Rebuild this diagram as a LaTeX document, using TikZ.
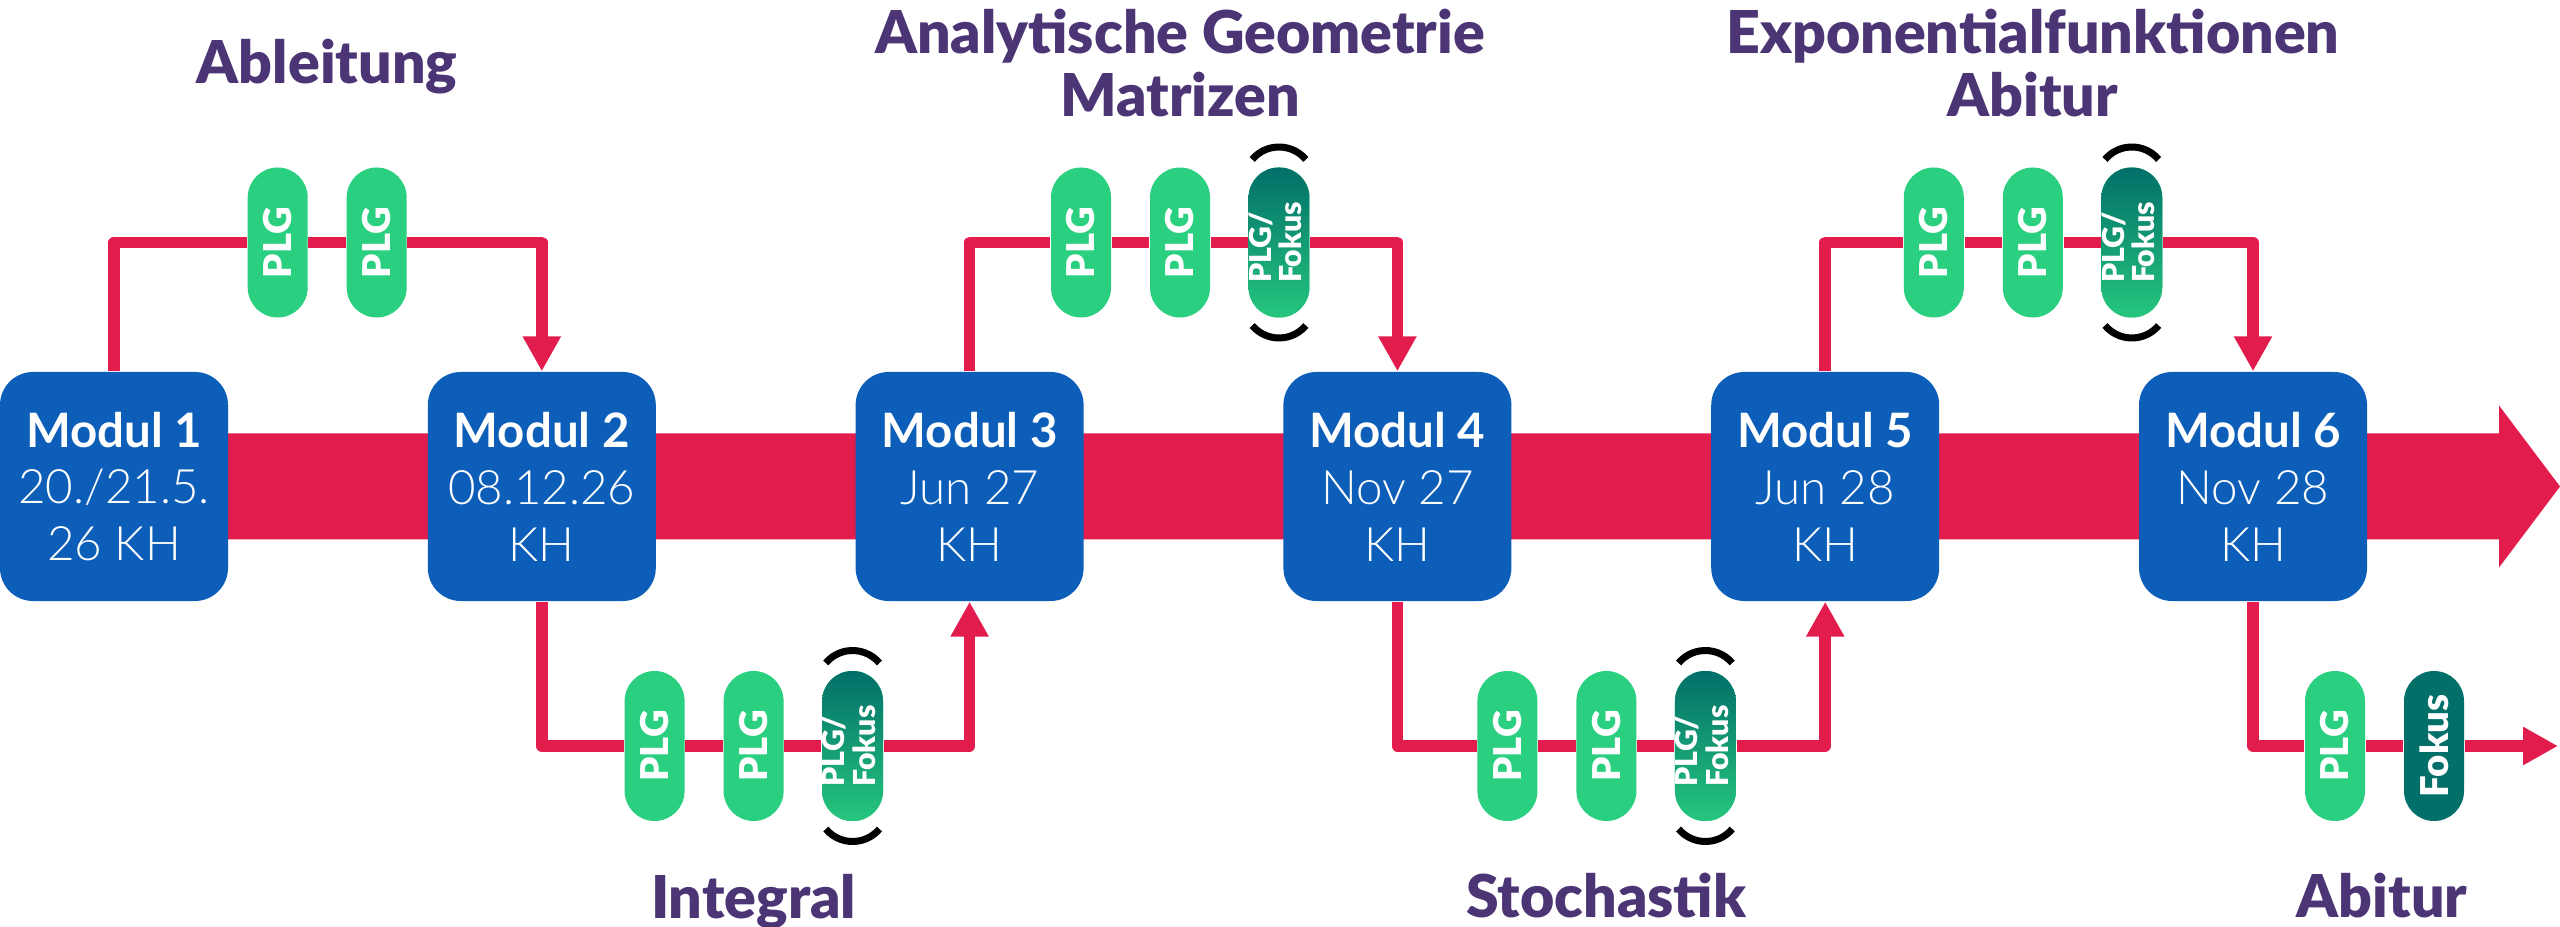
\documentclass[tikz,border=0pt]{standalone}
\usepackage{fontspec}
\setmainfont{Lato}
\newfontfamily\latoblack{Lato Black}
\newfontfamily\latolight{Lato Light}
\usepackage{graphicx}
\usepackage{xcolor}
\usetikzlibrary{arrows.meta, positioning, calc, backgrounds}

\definecolor{modulblue}{HTML}{0C5EB9}
\definecolor{pathred}{HTML}{E21D4D}
\definecolor{titlepurple}{HTML}{4C3575}
\definecolor{plggreen}{HTML}{2AD080}
\definecolor{fokusteal}{HTML}{026F69}

% brackets around an optional exam
\newcommand{\klammern}[1]{%
 \draw [klammer] ($(#1.center)+(0,0.605)+(40:0.35)$) arc[start angle=40, end angle=140, radius=0.35];
 \draw [klammer] ($(#1.center)+(0,-0.605)+(220:0.35)$) arc[start angle=220, end angle=320, radius=0.35];
}

\begin{document}
\begin{tikzpicture}[>={Triangle[length=3.5mm, width=3.6mm]}]
 % We define the styles for the modules, the exams and the paths
 \tikzset{
modul/.style = {rectangle, fill=modulblue, text=white, rounded corners=3.3mm, minimum width=22.8mm, minimum height=22.9mm, inner sep=0pt, align=center, font=\fontsize{13.5}{16.2}\selectfont},
plg/.style = {rectangle, fill=plggreen, text=white, rounded corners=3mm, minimum width=6mm, minimum height=15mm, inner sep=0pt, font=\latoblack\fontsize{10.9}{11}\selectfont},
fokus/.style = {plg, fill=fokusteal},
plgfokus/.style = {plg, top color=fokusteal, bottom color=plggreen!90!fokusteal, font=\latoblack\fontsize{8.6}{7.4}\selectfont},
branch/.style = {draw=pathred, line width=1.15mm, line join=round, ->},
klammer/.style = {draw=black, line width=0.7mm},
titel/.style = {text=titlepurple, align=center, font=\latoblack\fontsize{16.8}{18.2}\selectfont},
}
 \useasboundingbox (0,0) rectangle (25.6,-9.27);

 % Module blocks
 \node [modul] (m1) at (1.14,-4.865) {\textbf{Modul 1}\\{\latolight 20./21.5.}\\{\latolight 26 KH}};
 \node [modul, right=1.984cm of m1] (m2) {\textbf{Modul 2}\\{\latolight 08.12.26}\\{\latolight KH}};
 \node [modul, right=1.984cm of m2] (m3) {\textbf{Modul 3}\\{\latolight Jun 27}\\{\latolight KH}};
 \node [modul, right=1.984cm of m3] (m4) {\textbf{Modul 4}\\{\latolight Nov 27}\\{\latolight KH}};
 \node [modul, right=1.984cm of m4] (m5) {\textbf{Modul 5}\\{\latolight Jun 28}\\{\latolight KH}};
 \node [modul, right=1.984cm of m5] (m6) {\textbf{Modul 6}\\{\latolight Nov 28}\\{\latolight KH}};

 % Big timeline arrow behind the modules
 \coordinate (tip) at (25.6,-4.865);
 \begin{scope}[on background layer]
 \fill [pathred] ($(m1.center)+(0,0.53)$) -- ($(tip)+(-0.61,0.53)$) -- ($(tip)+(-0.61,0.81)$) -- (tip)
   -- ($(tip)+(-0.61,-0.81)$) -- ($(tip)+(-0.61,-0.53)$) -- ($(m1.center)+(0,-0.53)$) -- cycle;
 \end{scope}

 % Exams between the modules
 \node [plg] (a1) at (2.777,-2.425) {\rotatebox{90}{PLG}};
 \node [plg] (a2) at (3.767,-2.425) {\rotatebox{90}{PLG}};

 \node [plg] (b1) at (6.546,-7.46) {\rotatebox{90}{PLG}};
 \node [plg] (b2) at (7.536,-7.46) {\rotatebox{90}{PLG}};
 \node [plgfokus] (b3) at (8.526,-7.46) {\rotatebox{90}{\begin{tabular}{@{}l@{}}PLG/\\Fokus\end{tabular}}};

 \node [plg] (c1) at (10.81,-2.425) {\rotatebox{90}{PLG}};
 \node [plg] (c2) at (11.80,-2.425) {\rotatebox{90}{PLG}};
 \node [plgfokus] (c3) at (12.79,-2.425) {\rotatebox{90}{\begin{tabular}{@{}l@{}}PLG/\\Fokus\end{tabular}}};

 \node [plg] (d1) at (15.074,-7.46) {\rotatebox{90}{PLG}};
 \node [plg] (d2) at (16.064,-7.46) {\rotatebox{90}{PLG}};
 \node [plgfokus] (d3) at (17.054,-7.46) {\rotatebox{90}{\begin{tabular}{@{}l@{}}PLG/\\Fokus\end{tabular}}};

 \node [plg] (e1) at (19.338,-2.425) {\rotatebox{90}{PLG}};
 \node [plg] (e2) at (20.328,-2.425) {\rotatebox{90}{PLG}};
 \node [plgfokus] (e3) at (21.318,-2.425) {\rotatebox{90}{\begin{tabular}{@{}l@{}}PLG/\\Fokus\end{tabular}}};

 \node [plg] (f1) at (23.35,-7.46) {\rotatebox{90}{PLG}};
 \node [fokus] (f2) at (24.34,-7.46) {\rotatebox{90}{Fokus}};
 \coordinate (ziel) at (25.58,-7.46);

 % Paths from module to module
 \draw [branch] (m1.north) |- (a1) -- (a2) -| (m2.north);
 \draw [branch] (m2.south) |- (b1) -- (b2) -- (b3) -| (m3.south);
 \draw [branch] (m3.north) |- (c1) -- (c2) -- (c3) -| (m4.north);
 \draw [branch] (m4.south) |- (d1) -- (d2) -- (d3) -| (m5.south);
 \draw [branch] (m5.north) |- (e1) -- (e2) -- (e3) -| (m6.north);
 \draw [branch] (m6.south) |- (f1) -- (f2) -- (ziel);

 \klammern{b3}
 \klammern{c3}
 \klammern{d3}
 \klammern{e3}

 % Topics
 \node [titel, anchor=base] (tab) at (3.272,-0.84) {Ableitung};
 \node [titel, anchor=base] (tag) at (11.8,-1.17) {Analytische Geometrie\\Matrizen};
 \node [titel, anchor=base] (tex) at (20.328,-1.17) {Exponentialfunktionen\\Abitur};
 \node [titel, anchor=base] (tin) at (7.536,-9.18) {Integral};
 \node [titel, anchor=base] (tst) at (16.064,-9.17) {Stochastik};
 \node [titel, anchor=base] (tabi) at (23.82,-9.17) {Abitur};

\end{tikzpicture}
\end{document}
